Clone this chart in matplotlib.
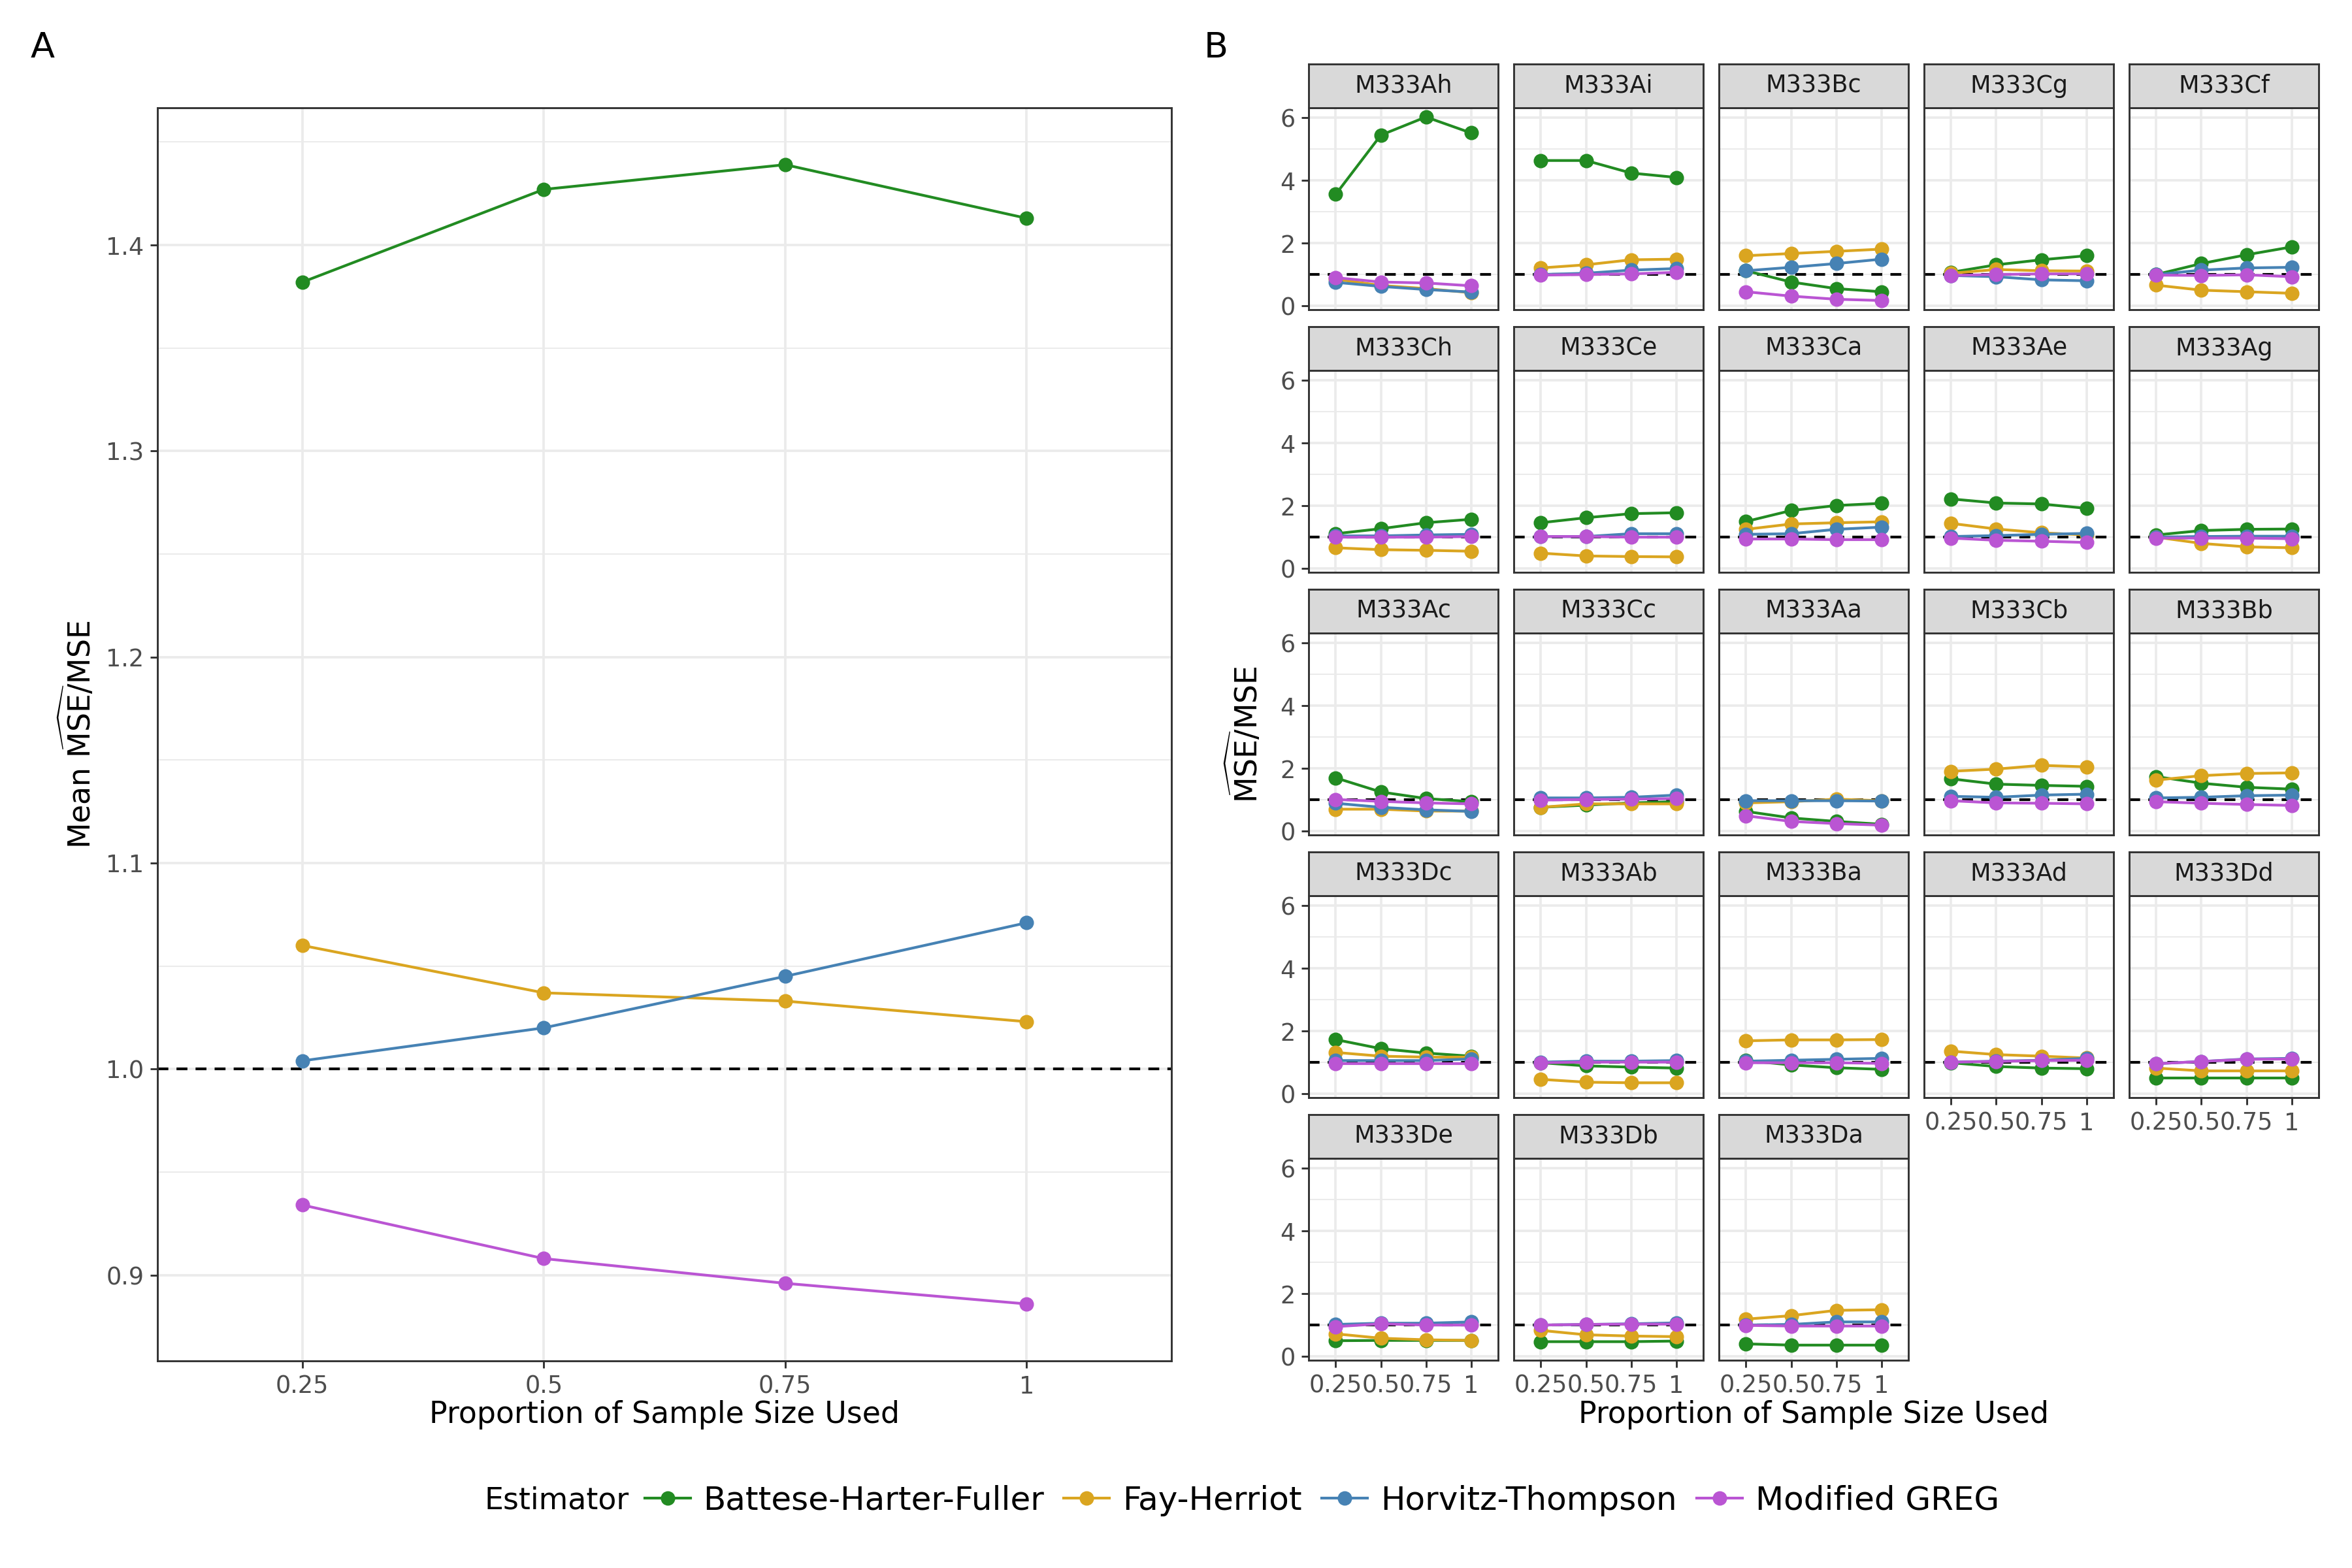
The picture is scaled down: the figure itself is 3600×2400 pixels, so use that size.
import numpy as np
import matplotlib.pyplot as plt
from matplotlib.lines import Line2D
from matplotlib.ticker import MultipleLocator, FixedLocator

plt.rcParams['font.family'] = ['DejaVu Sans']
plt.rcParams['mathtext.fontset'] = 'dejavusans'

# x categories and estimators
props = ["0.25", "0.5", "0.75", "1"]
estimators = ["Battese-Harter-Fuller", "Fay-Herriot", "Horvitz-Thompson", "Modified GREG"]
colors = ["forestgreen", "goldenrod", "steelblue", "mediumorchid"]

# Panel A: mean ratio over all areas
mean_bhf = [1.382, 1.427, 1.439, 1.413]
mean_fh = [1.060, 1.037, 1.033, 1.023]
mean_ht = [1.004, 1.020, 1.045, 1.071]
mean_mgreg = [0.934, 0.908, 0.896, 0.886]

# Panel B: one facet per area
facets = ["M333Ah", "M333Ai", "M333Bc", "M333Cg", "M333Cf",
          "M333Ch", "M333Ce", "M333Ca", "M333Ae", "M333Ag",
          "M333Ac", "M333Cc", "M333Aa", "M333Cb", "M333Bb",
          "M333Dc", "M333Ab", "M333Ba", "M333Ad", "M333Dd",
          "M333De", "M333Db", "M333Da"]

bhf = [[3.56, 5.45, 6.03, 5.52], [4.64, 4.64, 4.24, 4.10], [1.12, 0.76, 0.55, 0.45],
       [1.07, 1.31, 1.47, 1.60], [1.00, 1.35, 1.63, 1.88],
       [1.11, 1.27, 1.46, 1.57], [1.46, 1.62, 1.75, 1.78], [1.50, 1.85, 2.01, 2.08],
       [2.22, 2.09, 2.06, 1.92], [1.07, 1.21, 1.25, 1.26],
       [1.70, 1.25, 1.04, 0.94], [0.76, 0.83, 0.90, 0.94], [0.63, 0.42, 0.31, 0.22],
       [1.67, 1.50, 1.46, 1.43], [1.74, 1.53, 1.40, 1.34],
       [1.73, 1.44, 1.30, 1.20], [0.99, 0.89, 0.85, 0.82], [1.06, 0.92, 0.83, 0.78],
       [0.99, 0.87, 0.82, 0.80], [0.51, 0.51, 0.51, 0.51],
       [0.50, 0.51, 0.51, 0.51], [0.47, 0.47, 0.47, 0.49], [0.40, 0.36, 0.36, 0.36]]

fh = [[0.85, 0.65, 0.55, 0.42], [1.21, 1.31, 1.47, 1.49], [1.60, 1.67, 1.74, 1.81],
      [1.04, 1.16, 1.12, 1.11], [0.66, 0.50, 0.45, 0.40],
      [0.66, 0.60, 0.58, 0.55], [0.49, 0.40, 0.38, 0.37], [1.25, 1.42, 1.46, 1.49],
      [1.44, 1.26, 1.14, 1.07], [1.00, 0.80, 0.69, 0.66],
      [0.70, 0.70, 0.64, 0.64], [0.76, 0.87, 0.87, 0.87], [0.90, 0.94, 1.02, 0.97],
      [1.91, 1.98, 2.10, 2.05], [1.63, 1.77, 1.84, 1.86],
      [1.32, 1.20, 1.17, 1.17], [0.46, 0.37, 0.35, 0.35], [1.69, 1.72, 1.72, 1.73],
      [1.36, 1.25, 1.20, 1.14], [0.82, 0.73, 0.73, 0.73],
      [0.72, 0.58, 0.53, 0.51], [0.83, 0.69, 0.65, 0.63], [1.19, 1.30, 1.47, 1.49]]

ht = [[0.75, 0.62, 0.52, 0.44], [1.00, 1.04, 1.14, 1.19], [1.12, 1.23, 1.35, 1.49],
      [0.97, 0.93, 0.83, 0.80], [1.00, 1.14, 1.21, 1.23],
      [1.04, 1.04, 1.07, 1.09], [1.02, 1.02, 1.11, 1.11], [1.09, 1.11, 1.25, 1.32],
      [1.02, 1.05, 1.09, 1.12], [1.00, 1.02, 1.03, 1.03],
      [0.89, 0.76, 0.68, 0.63], [1.06, 1.06, 1.08, 1.15], [0.97, 0.97, 0.97, 0.96],
      [1.11, 1.08, 1.15, 1.18], [1.06, 1.08, 1.13, 1.15],
      [1.06, 1.06, 1.06, 1.11], [1.01, 1.04, 1.04, 1.06], [1.04, 1.07, 1.10, 1.13],
      [1.01, 1.04, 1.07, 1.13], [0.96, 1.03, 1.11, 1.13],
      [1.02, 1.06, 1.06, 1.10], [1.00, 1.02, 1.04, 1.07], [1.00, 1.02, 1.10, 1.10]]

mgreg = [[0.90, 0.76, 0.73, 0.64], [0.98, 1.00, 1.02, 1.07], [0.45, 0.31, 0.21, 0.17],
         [0.97, 1.00, 1.02, 1.02], [0.98, 0.97, 0.99, 0.93],
         [1.00, 1.00, 1.00, 1.02], [1.02, 1.02, 1.00, 1.00], [0.94, 0.94, 0.92, 0.92],
         [0.97, 0.90, 0.87, 0.83], [0.97, 0.97, 0.97, 0.95],
         [1.01, 0.95, 0.90, 0.87], [0.99, 1.01, 1.02, 1.04], [0.49, 0.31, 0.24, 0.19],
         [0.97, 0.90, 0.89, 0.87], [0.94, 0.89, 0.85, 0.82],
         [0.97, 0.97, 0.97, 0.97], [0.99, 1.01, 1.01, 1.01], [0.99, 0.99, 0.99, 0.97],
         [1.01, 1.03, 1.06, 1.07], [0.96, 1.03, 1.10, 1.11],
         [0.95, 1.04, 1.00, 1.00], [1.00, 1.02, 1.03, 1.03], [0.99, 0.97, 0.97, 0.97]]

GRID = "#EBEBEB"
BORDER = "#333333"
TICKTXT = "#4D4D4D"
DASH = (0, (4, 3))


def style_panel(ax, ymajor, yminor):
    ax.set_facecolor("white")
    for s in ax.spines.values():
        s.set_color(BORDER)
        s.set_linewidth(0.7)
    ax.yaxis.set_major_locator(FixedLocator(ymajor))
    ax.yaxis.set_minor_locator(FixedLocator(yminor))
    ax.grid(which="major", color=GRID, lw=0.9, zorder=0)
    ax.grid(which="minor", axis="y", color=GRID, lw=0.5, zorder=0)
    ax.set_axisbelow(True)
    ax.tick_params(which="major", length=2.75, width=0.7, color=BORDER,
                   labelsize=8.8, labelcolor=TICKTXT, pad=2.2)
    ax.tick_params(which="minor", length=0)


def padded(lo, hi):
    pad = 0.05 * (hi - lo)
    return lo - pad, hi + pad


fig = plt.figure(figsize=(12, 8), dpi=300)
x = np.arange(len(props))

# ---- Panel A ----
axA = fig.add_axes([0.067, 0.1321, 0.431, 0.7992])
series_a = [mean_bhf, mean_fh, mean_ht, mean_mgreg]
for vals, c in zip(series_a, colors):
    axA.plot(x, vals, color=c, lw=1.0, marker="o", ms=4.3, zorder=3)
axA.axhline(1.0, color="black", ls=DASH, lw=1.0, zorder=2)
allA = np.concatenate(series_a)
axA.set_ylim(*padded(allA.min(), allA.max()))
axA.set_xlim(-0.6, len(props) - 0.4)
axA.set_xticks(x)
axA.set_xticklabels(props)
style_panel(axA, [0.9, 1.0, 1.1, 1.2, 1.3, 1.4],
            [0.85, 0.95, 1.05, 1.15, 1.25, 1.35, 1.45])
axA.set_yticklabels(["0.9", "1.0", "1.1", "1.2", "1.3", "1.4"])

fig.text(0.0332, 0.5316, r"Mean $\widehat{\mathrm{MSE}}/\mathrm{MSE}$", rotation=90,
         ha="center", va="center", fontsize=11)
fig.text(0.2825, 0.0976, "Proportion of Sample Size Used", ha="center", va="center",
         fontsize=11)

# ---- Panel B ----
allB = np.concatenate([np.ravel(bhf), np.ravel(fh), np.ravel(ht), np.ravel(mgreg)])
ylimB = padded(allB.min(), allB.max())

left0, pw, px = 0.5564, 0.08056, 0.08722
top0, ph, sh, py = 0.93125, 0.12875, 0.0281, 0.1675
ncol = 5
n = len(facets)

for i, name in enumerate(facets):
    r, c = divmod(i, ncol)
    left = left0 + c * px
    bottom = top0 - r * py - ph
    ax = fig.add_axes([left, bottom, pw, ph])
    for data, col in zip([bhf, fh, ht, mgreg], colors):
        ax.plot(x, data[i], color=col, lw=1.0, marker="o", ms=4.3, zorder=3)
    ax.axhline(1.0, color="black", ls=DASH, lw=1.0, zorder=2)
    ax.set_ylim(*ylimB)
    ax.set_xlim(-0.6, len(props) - 0.4)
    ax.set_xticks(x)
    style_panel(ax, [0, 2, 4, 6], [1, 3, 5])
    # bottom panel in its column gets x labels
    if i + ncol >= n:
        ax.set_xticklabels(props)
    else:
        ax.set_xticklabels([])
        ax.tick_params(axis="x", length=0)
    if c == 0:
        ax.set_yticklabels(["0", "2", "4", "6"])
    else:
        ax.set_yticklabels([])
        ax.tick_params(axis="y", length=0)

    # facet strip
    sax = fig.add_axes([left, bottom + ph, pw, sh])
    sax.set_facecolor("#D9D9D9")
    sax.set_xticks([])
    sax.set_yticks([])
    for s in sax.spines.values():
        s.set_color(BORDER)
        s.set_linewidth(0.7)
    sax.text(0.5, 0.5, name, ha="center", va="center", fontsize=8.8,
             color="#1A1A1A", transform=sax.transAxes)

fig.text(0.5293, 0.5316, r"$\widehat{\mathrm{MSE}}/\mathrm{MSE}$", rotation=90,
         ha="center", va="center", fontsize=11)
fig.text(0.771, 0.0976, "Proportion of Sample Size Used", ha="center", va="center",
         fontsize=11)

# panel tags
fig.text(0.0128, 0.9694, "A", ha="left", va="center", fontsize=13)
fig.text(0.512, 0.9694, "B", ha="left", va="center", fontsize=13)

# legend at the bottom
handles = [Line2D([0], [0], color=c, lw=1.0, marker="o", ms=4.3) for c in colors]
fig.legend(handles, estimators, loc="center", bbox_to_anchor=(0.562, 0.043), ncol=4,
           frameon=False, fontsize=12, handlelength=1.4, handletextpad=0.4,
           columnspacing=0.6)
fig.text(0.206, 0.043, "Estimator", ha="left", va="center", fontsize=11)

fig.savefig("out.png", dpi=300)
